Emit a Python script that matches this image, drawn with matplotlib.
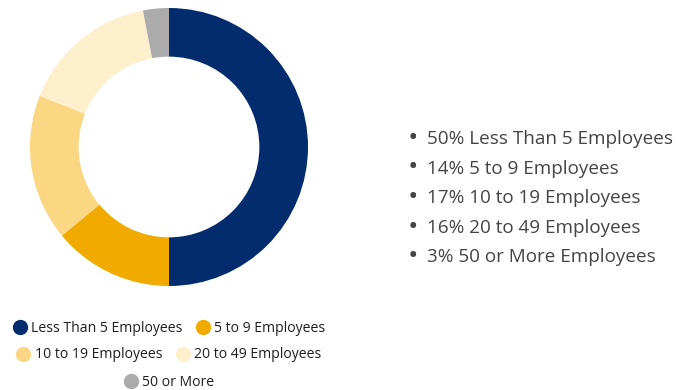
import matplotlib.pyplot as plt
from matplotlib.lines import Line2D

plt.rcParams['font.family'] = ['Open Sans', 'DejaVu Sans']

categories = ['Less Than 5 Employees', '5 to 9 Employees', '10 to 19 Employees',
              '20 to 49 Employees', '50 or More']
shares = [50, 14, 17, 16, 3]
bullet_labels = ['Less Than 5 Employees', '5 to 9 Employees', '10 to 19 Employees',
                 '20 to 49 Employees', '50 or More Employees']
colors = ['#022c6e', '#f0aa00', '#fcd783', '#fef0cd', '#ababab']

W, H = 676, 390
fig = plt.figure(figsize=(W / 100, H / 100), dpi=100)

# donut
cx, cy, r = 169, 147, 139
ax = fig.add_axes([(cx - r) / W, (H - cy - r) / H, 2 * r / W, 2 * r / H])
ax.pie(shares, colors=colors, startangle=90, counterclock=False, radius=1,
       wedgeprops=dict(width=0.35, linewidth=0))
ax.set_xlim(-1, 1)
ax.set_ylim(-1, 1)
ax.set_aspect('equal')
ax.axis('off')

# legend, three centred rows
def circle(c):
    return Line2D([], [], marker='o', linestyle='', markersize=10,
                  markerfacecolor=c, markeredgecolor=c)

rows = [([0, 1], 328), ([2, 3], 355), ([4], 382)]
for idx, y in rows:
    leg = fig.legend([circle(colors[i]) for i in idx], [categories[i] for i in idx],
                     loc='center', bbox_to_anchor=(169 / W, 1 - y / H),
                     ncol=len(idx), frameon=False, fontsize=10.1,
                     handletextpad=0.3, columnspacing=1.0, handlelength=1.0,
                     borderaxespad=0, borderpad=0)
    for t in leg.get_texts():
        t.set_color('#1e1e1e')

# bullet list
for i, (s, lab) in enumerate(zip(shares, bullet_labels)):
    y = 1 - (139 + i * 29.5) / H
    fig.text(413 / W, y, '\u2022', fontsize=20, color='#444444', va='center', ha='center')
    fig.text(427 / W, y, f'{s}% {lab}', fontsize=13.6, color='#444444', va='center')

fig.savefig('out.png', dpi=100)
